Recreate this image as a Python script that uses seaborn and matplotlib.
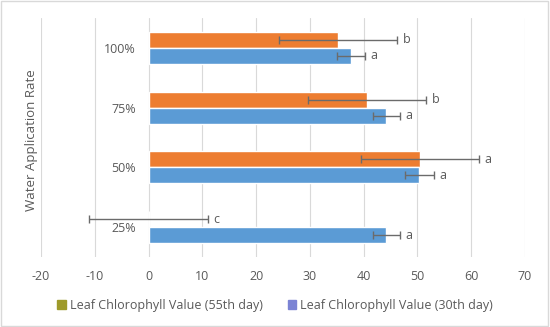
import matplotlib.pyplot as plt
import matplotlib.patches as mpatches
import numpy as np
import pandas as pd
import seaborn as sb

# data
rates = ["100%", "75%", "50%", "25%"]
day55 = [35.2, 40.6, 50.5, 0.0]
day55_err = [11.0, 11.0, 11.0, 11.0]
day55_letters = ["b", "b", "a", "c"]
day30 = [37.7, 44.2, 50.3, 44.2]
day30_err = [2.6, 2.5, 2.7, 2.5]
day30_letters = ["a", "a", "a", "a"]

lab55 = "Leaf Chlorophyll Value (55th day)"
lab30 = "Leaf Chlorophyll Value (30th day)"

df = pd.DataFrame({
    "rate": rates * 2,
    "value": day55 + day30,
    "series": [lab55] * 4 + [lab30] * 4,
})

sb.set_style("white")
plt.rcParams["font.family"] = ["Open Sans", "DejaVu Sans"]
plt.rcParams["axes.unicode_minus"] = False
txt = "#595959"

fig = plt.figure(figsize=(5.5, 3.27), dpi=100)
ax = fig.add_axes([0.0745, 0.214, 0.88, 0.731])

sb.barplot(data=df, y="rate", x="value", hue="series", order=rates,
           hue_order=[lab55, lab30], palette=["#ED7D31", "#5B9BD5"],
           saturation=1, orient="h", width=0.533, gap=0, errorbar=None,
           ax=ax, legend=False)

# error bars + significance letters
for cont, vals, errs, letters in zip(ax.containers, [day55, day30],
                                     [day55_err, day30_err],
                                     [day55_letters, day30_letters]):
    for bar, v, e, l in zip(cont, vals, errs, letters):
        yc = bar.get_y() + bar.get_height() / 2
        ax.errorbar(v, yc, xerr=e, fmt="none", ecolor="#6b6b6b",
                    elinewidth=1, capsize=3, capthick=1, zorder=5)
        ax.annotate(l, (v + e, yc), xytext=(4, 0), textcoords="offset points",
                    va="center", ha="left", fontsize=9, color=txt)

ax.set_xlim(-20, 70)
ax.set_xticks(np.arange(-20, 71, 10))
ax.set_ylim(3.5, -0.5)
ax.grid(axis="x", color="#d9d9d9", linewidth=0.8)
ax.set_axisbelow(True)
for s in ["top", "right", "bottom"]:
    ax.spines[s].set_visible(False)
ax.spines["left"].set_position(("data", 0))
ax.spines["left"].set_color("none")
ax.tick_params(axis="both", length=0, labelsize=9, colors=txt)
ax.tick_params(axis="x", pad=9)
ax.tick_params(axis="y", pad=9)
ax.set_xlabel("")
ax.set_ylabel("")
fig.text(0.058, 0.57, "Water Application Rate", rotation=90, va="center",
         ha="center", fontsize=9.5, color=txt)

handles = [mpatches.Patch(color="#9E9A2A", label=lab55),
           mpatches.Patch(color="#7B83D4", label=lab30)]
fig.legend(handles=handles, loc="center", bbox_to_anchor=(0.5, 0.067), ncol=2,
           frameon=False, fontsize=9, labelcolor=txt, handlelength=0.7,
           handleheight=0.7, handletextpad=0.3, columnspacing=2.0)

fig.patches.append(mpatches.Rectangle((0.002, 0.003), 0.995, 0.994,
                                      transform=fig.transFigure, fill=False,
                                      edgecolor="#d9d9d9", linewidth=1))

plt.savefig("out.png", dpi=100)
